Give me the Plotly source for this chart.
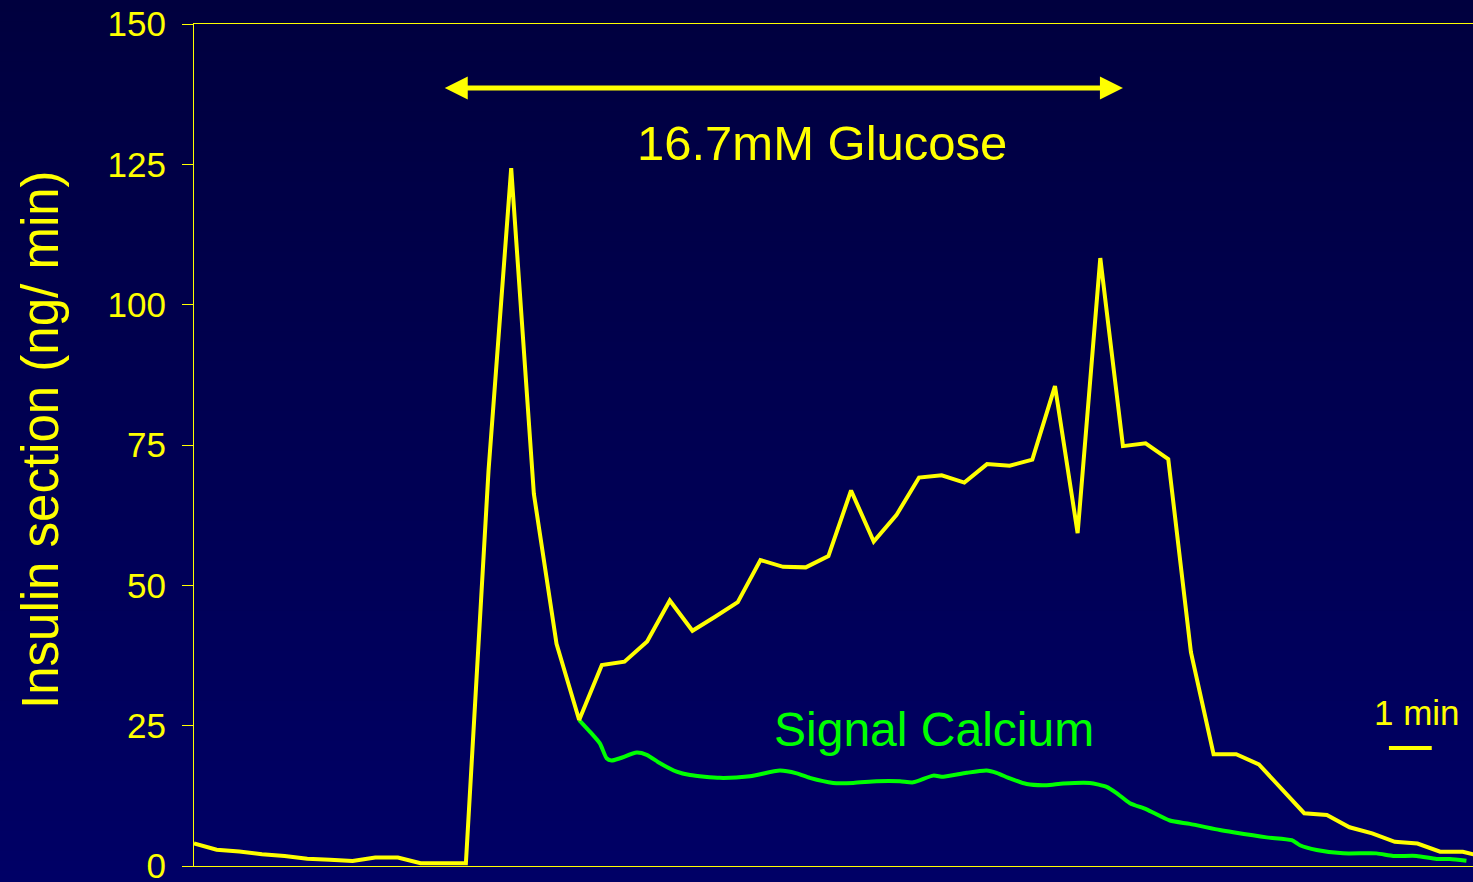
import plotly.graph_objects as go

# ---- data ----
minutes = list(range(58))
insulin = [4.0, 2.9, 2.6, 2.1, 1.8, 1.3, 1.1, 0.9, 1.5, 1.5,
           0.5, 0.5, 0.5, 70.5, 124.3, 66.3, 39.6, 26.0, 35.8, 36.4,
           40.0, 47.3, 41.9, 44.4, 47.0, 54.5, 53.3, 53.2, 55.2, 66.9,
           57.8, 62.5, 69.2, 69.6, 68.3, 71.6, 71.3, 72.4, 85.5, 59.3,
           108.3, 74.8, 75.3, 72.5, 38.1, 19.9, 19.9, 18.1, 13.8, 9.4,
           9.1, 6.9, 5.8, 4.3, 4.0, 2.55, 2.55, 1.55]

calcium_time = [17.0, 17.48, 17.92, 18.21, 18.43, 18.80, 19.54, 19.98, 20.57, 21.30,
                21.89, 23.21, 24.54, 25.86, 26.60, 27.18, 28.21, 29.10, 30.13, 31.16,
                31.74, 32.63, 33.07, 34.10, 34.98, 35.42, 36.01, 36.75, 37.63, 38.36,
                39.54, 40.28, 40.72, 41.31, 42.04, 43.07, 43.95, 45.28, 45.87, 47.34,
                48.45, 48.81, 49.55, 50.72, 52.19, 52.93, 53.96, 54.84, 55.43, 56.16]
calcium = [26.0, 23.9, 21.8, 19.2, 18.8, 19.2, 20.2, 19.8, 18.3, 16.8,
           16.2, 15.7, 16.0, 17.0, 16.5, 15.7, 14.8, 14.8, 15.1, 15.1,
           14.9, 16.1, 15.9, 16.6, 17.0, 16.6, 15.6, 14.6, 14.4, 14.7,
           14.8, 14.1, 13.0, 11.2, 10.1, 8.1, 7.5, 6.4, 6.0, 5.1,
           4.6, 3.7, 2.85, 2.25, 2.25, 1.8, 1.8, 1.25, 1.25, 0.95]

y_ticks = [0, 25, 50, 75, 100, 125, 150]
glucose_start, glucose_end = 11, 41

YEL = "#FFFF00"
GRN = "#00FF00"
FONT = "Arial, Liberation Sans, sans-serif"

fig = go.Figure()
fig.add_trace(go.Scatter(x=calcium_time, y=calcium, mode="lines",
                         line=dict(color=GRN, width=4, shape="spline", smoothing=0.6),
                         hoverinfo="skip"))
fig.add_trace(go.Scatter(x=minutes, y=insulin, mode="lines",
                         line=dict(color=YEL, width=4), hoverinfo="skip"))

# vertical gradient background
shapes = []
n = 90
top = (0, 0, 62)
bot = (0, 0, 102)
y_lo, y_hi = -16 / 842 - 0.01, 1 + 24 / 842 + 0.01
for k in range(n):
    f = k / (n - 1)
    c = tuple(round(top[j] + (bot[j] - top[j]) * f) for j in range(3))
    y1 = y_hi - (y_hi - y_lo) * k / n
    y0 = y_hi - (y_hi - y_lo) * (k + 1) / n - 0.002
    shapes.append(dict(type="rect", xref="paper", yref="paper", x0=-0.2, x1=1.05,
                       y0=y0, y1=y1, fillcolor="rgb(%d,%d,%d)" % c,
                       line=dict(width=0), layer="below"))
# scale bar under "1 min"
shapes.append(dict(type="line", xref="x", yref="y", x0=52.74, x1=54.63, y0=21.0, y1=21.0,
                   line=dict(color=YEL, width=4)))
fig.update_layout(shapes=shapes)

fig.add_annotation(x=glucose_end, y=138.6, ax=glucose_start, ay=138.6, axref="x", ayref="y",
                   xref="x", yref="y", text="", showarrow=True, arrowside="end+start",
                   arrowhead=2, startarrowhead=2, arrowwidth=5, arrowsize=0.92,
                   startarrowsize=0.92, arrowcolor=YEL)
fig.add_annotation(x=27.7, y=128.8, xref="x", yref="y", text="16.7mM Glucose", showarrow=False,
                   font=dict(family=FONT, size=49, color=YEL), xanchor="center", yanchor="middle")
fig.add_annotation(x=32.66, y=24.4, xref="x", yref="y", text="Signal Calcium", showarrow=False,
                   font=dict(family=FONT, size=48, color=GRN), xanchor="center", yanchor="middle")
fig.add_annotation(x=53.97, y=27.3, xref="x", yref="y", text="1 min", showarrow=False,
                   font=dict(family=FONT, size=35, color=YEL), xanchor="center", yanchor="middle")
fig.add_annotation(x=0, y=0.5, xref="paper", yref="paper", xshift=-154, yshift=5,
                   text="Insulin section (ng/ min)", showarrow=False, textangle=-90,
                   font=dict(family=FONT, size=51, color=YEL), xanchor="center", yanchor="middle")

fig.update_layout(
    width=1473, height=882,
    margin=dict(l=194, r=0, t=24, b=16, autoexpand=False),
    paper_bgcolor="rgb(0,0,82)",
    plot_bgcolor="rgba(0,0,0,0)",
    showlegend=False,
    xaxis=dict(range=[0, 56.45], showgrid=False, zeroline=False, showticklabels=False,
               ticks="", showline=True, linecolor=YEL, linewidth=1, mirror=True,
               automargin=False),
    yaxis=dict(range=[0, 150], tickvals=y_ticks, showgrid=False, zeroline=False,
               ticks="outside", ticklen=11, tickcolor=YEL, tickwidth=1,
               showline=True, linecolor=YEL, linewidth=1, ticklabelstandoff=9,
               ticklabeloverflow="allow", automargin=False,
               tickfont=dict(family=FONT, size=35, color=YEL)),
)

page_fix = (
    "document.body.style.margin='0';"
    "document.body.style.padding='0';"
    "document.body.style.overflow='hidden';"
    "document.documentElement.style.overflow='hidden';"
    "document.body.style.background='rgb(0,0,82)';"
)
fig.write_html("out.html", post_script=page_fix, config={"displayModeBar": False})
